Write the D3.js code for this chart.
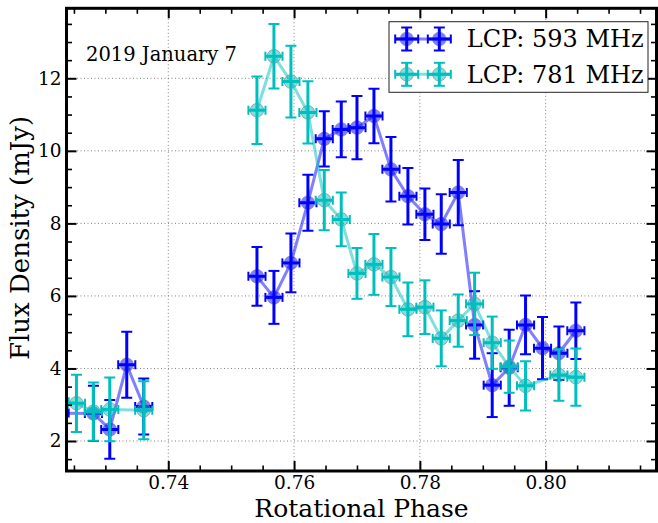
<!DOCTYPE html>
<html>
<head>
<meta charset="utf-8">
<script src="https://cdn.jsdelivr.net/npm/d3@7/dist/d3.min.js"></script>
<style>
  body { margin: 0; background: #fff; }
  svg { display: block; font-family: 'DejaVu Serif', serif; }
</style>
</head>
<body>
<div id="flux-chart"></div>
<script>
// Data: flux per rotational phase bin (null = no measurement)
const phase = [0.7228, 0.7254, 0.7281, 0.7307, 0.7334, 0.7361,
  0.7541, 0.7568, 0.7595, 0.7622, 0.7648, 0.7675, 0.7700, 0.7727, 0.7754,
  0.7781, 0.7808, 0.7834, 0.7861, 0.7887, 0.7915, 0.7942, 0.7968, 0.7995,
  0.8021, 0.8048];
const flux593 = [2.77, null, 2.76, 2.32, 4.10, 2.95,
  6.54, 5.96, 6.91, 8.57, 10.33, 10.59, 10.64, 10.96, 9.49,
  8.75, 8.25, 7.98, 8.85, 5.20, 3.54, 4.02, 5.20, 4.56,
  4.42, 5.04];
const err593 = [0.80, null, 0.76, 0.81, 0.91, 0.77,
  0.81, 0.73, 0.81, 0.77, 0.76, 0.77, 0.87, 0.75, 0.89,
  0.78, 0.71, 0.82, 0.90, 0.93, 0.88, 1.05, 0.81, 0.86,
  0.74, 0.78];
const flux781 = [3.08, 3.04, 2.81, 2.87, null, 2.85,
  11.12, 12.61, 11.91, 11.06, 8.64, 8.11, 6.62, 6.87, 6.52,
  5.63, 5.69, 4.83, 5.32, 5.78, 4.71, 4.05, 3.52, null,
  3.82, 3.76];
const err781 = [0.80, 0.79, 0.80, 0.88, null, 0.80,
  0.93, 0.89, 0.99, 0.86, 0.83, 0.74, 0.70, 0.84, 0.80,
  0.74, 0.74, 0.77, 0.72, 0.86, 0.72, 0.72, 0.68, null,
  0.71, 0.79];
const phaseErr = 0.00136; // half bin width

const xMajor = [0.74, 0.76, 0.78, 0.80];
const yMajor = [2, 4, 6, 8, 10, 12];
const seriesLabels = ['LCP: 593 MHz', 'LCP: 781 MHz'];
const dateLabel = '2019 January 7';

const series = [
  { label: seriesLabels[0], flux: flux593, err: err593, color: '#0000ff' },
  { label: seriesLabels[1], flux: flux781, err: err781, color: '#00bfbf' },
];

// Base positioning
var margin = { top: 8.3, bottom: 52, left: 66.5, right: 1.5 },
  width = 658 - margin.left - margin.right,
  height = 523 - margin.top - margin.bottom;

const svg = d3.select('#flux-chart')
  .append('svg')
  .attr('width', 658)
  .attr('height', 523)
  .append('g')
  .attr('transform', 'translate(' + margin.left + ',' + margin.top + ')');

const x = d3.scaleLinear().domain([0.72382, 0.81762]).range([0, width]);
const y = d3.scaleLinear().domain([1.173, 13.93]).range([height, 0]);

svg.append('clipPath').attr('id', 'plot-area')
  .append('rect').attr('width', width).attr('height', height);

// dotted grid at the major ticks
const grid = svg.append('g').attr('stroke', '#808080').attr('stroke-width', 1)
  .attr('stroke-dasharray', '1,2.5');
grid.selectAll('.gx').data(xMajor).enter().append('line')
  .attr('x1', d => x(d)).attr('x2', d => x(d)).attr('y1', 0).attr('y2', height);
grid.selectAll('.gy').data(yMajor).enter().append('line')
  .attr('y1', d => y(d)).attr('y2', d => y(d)).attr('x1', 0).attr('x2', width);

// data
const plot = svg.append('g').attr('clip-path', 'url(#plot-area)');
const capHalf = 5.5;

series.forEach(s => {
  const pts = phase.map((p, i) => ({ p: p, v: s.flux[i], e: s.err[i] }))
    .filter(d => d.v != null);
  // split the polyline where the phase coverage has a gap
  const segments = [];
  pts.forEach((d, i) => {
    if (i === 0 || d.p - pts[i - 1].p > 0.01) segments.push([]);
    segments[segments.length - 1].push(d);
  });
  const line = d3.line().x(d => x(d.p)).y(d => y(d.v));
  plot.selectAll(null).data(segments).enter().append('path')
    .attr('d', line)
    .attr('fill', 'none')
    .attr('stroke', s.color)
    .attr('stroke-opacity', 0.5)
    .attr('stroke-width', 3)
    .attr('stroke-linejoin', 'round');

  plot.selectAll(null).data(pts).enter().append('circle')
    .attr('cx', d => x(d.p)).attr('cy', d => y(d.v)).attr('r', 6.8)
    .attr('fill', s.color).attr('fill-opacity', 0.5)
    .attr('stroke', '#808080').attr('stroke-opacity', 0.6).attr('stroke-width', 1);

  const bars = plot.append('g').attr('stroke', s.color);
  // vertical error bars with caps
  bars.selectAll(null).data(pts).enter().append('line')
    .attr('x1', d => x(d.p)).attr('x2', d => x(d.p))
    .attr('y1', d => y(d.v - d.e)).attr('y2', d => y(d.v + d.e))
    .attr('stroke-width', 3);
  [-1, 1].forEach(k => {
    bars.selectAll(null).data(pts).enter().append('line')
      .attr('x1', d => x(d.p) - capHalf).attr('x2', d => x(d.p) + capHalf)
      .attr('y1', d => y(d.v + k * d.e)).attr('y2', d => y(d.v + k * d.e))
      .attr('stroke-width', 2);
  });
  // horizontal (phase) error bars with caps
  bars.selectAll(null).data(pts).enter().append('line')
    .attr('x1', d => x(d.p - phaseErr)).attr('x2', d => x(d.p + phaseErr))
    .attr('y1', d => y(d.v)).attr('y2', d => y(d.v))
    .attr('stroke-width', 3);
  [-1, 1].forEach(k => {
    bars.selectAll(null).data(pts).enter().append('line')
      .attr('x1', d => x(d.p + k * phaseErr)).attr('x2', d => x(d.p + k * phaseErr))
      .attr('y1', d => y(d.v) - 4.5).attr('y2', d => y(d.v) + 4.5)
      .attr('stroke-width', 2);
  });
});

// ticks point inward on all four sides
const xMinor = d3.range(0.725, 0.8176, 0.005).filter(v => !xMajor.some(m => Math.abs(m - v) < 1e-6));
const yMinor = d3.range(1.5, 13.9, 0.5).filter(v => !yMajor.some(m => Math.abs(m - v) < 1e-6));

const axes = [
  { gen: d3.axisBottom, scale: x, t: 'translate(0,' + height + ')', major: xMajor, minor: xMinor, lab: true, fmt: d3.format('.2f'), pad: 5 },
  { gen: d3.axisTop, scale: x, t: 'translate(0,0)', major: xMajor, minor: xMinor, lab: false, pad: 5 },
  { gen: d3.axisLeft, scale: y, t: 'translate(0,0)', major: yMajor, minor: yMinor, lab: true, fmt: d3.format('d'), pad: 5 },
  { gen: d3.axisRight, scale: y, t: 'translate(' + width + ',0)', major: yMajor, minor: yMinor, lab: false, pad: 5 },
];
axes.forEach(a => {
  [[a.major, 10, 2], [a.minor, 5.5, 1.6]].forEach(([vals, len, w], j) => {
    const g = svg.append('g').attr('transform', a.t)
      .call(a.gen(a.scale).tickValues(vals).tickSize(-len).tickPadding(a.pad)
        .tickFormat(a.lab && j === 0 ? a.fmt : ''));
    g.select('.domain').remove();
    g.selectAll('.tick line').attr('stroke', '#000').attr('stroke-width', w);
    g.selectAll('.tick text').attr('fill', '#000').style('font-size', '18.5px')
      .style('font-family', "'DejaVu Serif', serif");
  });
});

// frame
svg.append('rect').attr('width', width).attr('height', height)
  .attr('fill', 'none').attr('stroke', '#000').attr('stroke-width', 3);

// axis labels
svg.append('text')
  .attr('x', width / 2).attr('y', height + 46)
  .attr('text-anchor', 'middle').style('font-size', '25px')
  .text('Rotational Phase');
svg.append('text')
  .attr('transform', 'translate(' + (29 - margin.left) + ',' + (238 - margin.top) + ') rotate(-90)')
  .attr('text-anchor', 'middle').style('font-size', '26px')
  .text('Flux Density (mJy)');

// observing date
svg.append('text')
  .attr('x', 86 - margin.left).attr('y', 61 - margin.top)
  .style('font-size', '19.5px')
  .text(dateLabel);

// legend
const legend = svg.append('g').attr('transform', 'translate(' + (389 - margin.left) + ',' + (21.7 - margin.top) + ')');
legend.append('rect').attr('width', 259).attr('height', 70.6)
  .attr('fill', '#fff').attr('stroke', '#222').attr('stroke-width', 1);
series.forEach((s, i) => {
  const row = legend.append('g').attr('transform', 'translate(0,' + (17.3 + i * 35.3) + ')');
  row.append('line').attr('x1', 6).attr('x2', 62).attr('y1', 0).attr('y2', 0)
    .attr('stroke', s.color).attr('stroke-opacity', 0.5).attr('stroke-width', 3);
  [17.7, 50.3].forEach(cx => {
    row.append('circle').attr('cx', cx).attr('cy', 0).attr('r', 6.8)
      .attr('fill', s.color).attr('fill-opacity', 0.5)
      .attr('stroke', '#808080').attr('stroke-opacity', 0.6);
    const b = row.append('g').attr('stroke', s.color);
    b.append('line').attr('x1', cx).attr('x2', cx).attr('y1', -11.5).attr('y2', 11.5).attr('stroke-width', 3);
    b.append('line').attr('x1', cx - 11.5).attr('x2', cx + 11.5).attr('y1', 0).attr('y2', 0).attr('stroke-width', 3);
    [-11.5, 11.5].forEach(o => {
      b.append('line').attr('x1', cx - capHalf).attr('x2', cx + capHalf).attr('y1', o).attr('y2', o).attr('stroke-width', 2);
      b.append('line').attr('x1', cx + o).attr('x2', cx + o).attr('y1', -4.5).attr('y2', 4.5).attr('stroke-width', 2);
    });
  });
  row.append('text').attr('x', 77.7).attr('y', 0).attr('dy', '0.35em')
    .style('font-size', '24px').text(s.label);
});
</script>
</body>
</html>
